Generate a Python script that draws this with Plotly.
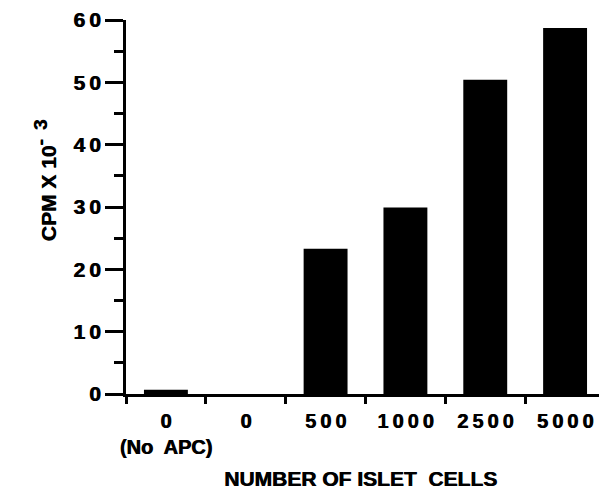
import plotly.graph_objects as go

categories = ["0<br>(No APC)", "0", "500", "1000", "2500", "5000"]
cpm_values = [0.7, 0.0, 23.3, 29.9, 50.4, 58.7]
y_ticks = [0, 10, 20, 30, 40, 50, 60]

TS = "\u2009"
def spaced(s):
    return TS.join(list(s))

x_ticktext = [spaced("0") + "<br>(No  APC)"] + [spaced(c) for c in categories[1:]]
y_ticktext = [spaced(str(v)) for v in y_ticks]

FONT = "Liberation Sans, Arial, Helvetica, sans-serif"
SHADOW = "0.7px 0px 0px black"

# page body has an 8px margin, so the figure is 8px smaller and margins compensate
fig = go.Figure(
    go.Bar(
        x=list(range(len(categories))),
        y=cpm_values,
        width=0.55,
        marker=dict(color="black", line=dict(width=0)),
    )
)

fig.update_layout(
    width=599,
    height=483,
    margin=dict(l=118, r=2, t=12, b=97, autoexpand=False),
    paper_bgcolor="white",
    plot_bgcolor="white",
    showlegend=False,
    font=dict(family=FONT, color="black"),
    annotations=[
        dict(
            text="<b>NUMBER OF ISLET  CELLS</b>",
            xref="paper", yref="paper",
            x=0.49, y=-0.225,
            xanchor="center", yanchor="middle",
            showarrow=False,
            font=dict(size=21, family=FONT, color="black", shadow=SHADOW),
        ),
        dict(
            text="<b>CPM X 10<sup><span style='font-size:19px'>-\u2009 3</span></sup></b>",
            xref="paper", yref="paper",
            x=-0.17, y=0.57,
            xanchor="center", yanchor="middle",
            textangle=-90,
            showarrow=False,
            font=dict(size=21, family=FONT, color="black", shadow=SHADOW),
        ),
    ],
)

fig.update_xaxes(
    automargin=False,
    range=[-0.5, 5.5],
    tickmode="array",
    tickvals=list(range(len(categories))),
    ticktext=["<b>" + t + "</b>" for t in x_ticktext],
    ticks="outside",
    ticklen=0,
    ticklabelstandoff=7,
    tickfont=dict(size=20, family=FONT, color="black", shadow=SHADOW),
    showline=True,
    linecolor="black",
    linewidth=3,
    showgrid=False,
    zeroline=False,
    minor=dict(
        tickmode="array",
        tickvals=[i - 0.5 for i in range(len(categories) + 1)],
        ticks="outside",
        ticklen=7,
        tickwidth=3,
        tickcolor="black",
        showgrid=False,
    ),
)

fig.update_yaxes(
    automargin=False,
    range=[0, 60],
    tickmode="array",
    tickvals=y_ticks,
    ticktext=["<b>" + t + "</b>" for t in y_ticktext],
    ticks="outside",
    ticklen=18,
    tickwidth=3,
    tickcolor="black",
    tickfont=dict(size=21, family=FONT, color="black", shadow=SHADOW),
    showline=True,
    linecolor="black",
    linewidth=3,
    showgrid=False,
    zeroline=False,
    minor=dict(
        dtick=5,
        tick0=0,
        ticks="outside",
        ticklen=9,
        tickwidth=3,
        tickcolor="black",
        showgrid=False,
    ),
)

fig.write_html("out.html")
